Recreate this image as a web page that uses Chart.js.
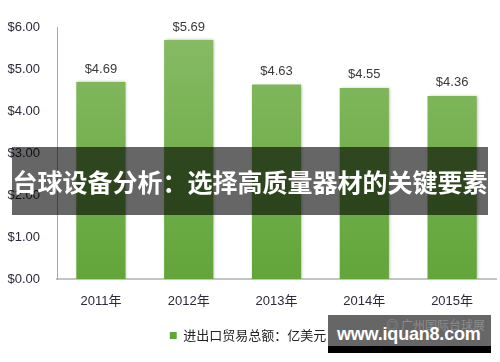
<!DOCTYPE html>
<html>
<head>
<meta charset="utf-8">
<script src="https://cdn.jsdelivr.net/npm/chart.js@4"></script>
<style>
  html, body { margin: 0; padding: 0; background: #fff; }
  #wrap { position: relative; width: 500px; height: 362px; overflow: hidden; }
  #overlay {
    position: absolute; left: 12px; top: 147px; width: 476px; height: 68px;
    background: rgba(0, 0, 0, 0.6); color: #fff;
    font: bold 25px "Noto Sans CJK SC", sans-serif;
    display: flex; align-items: center; justify-content: center; white-space: nowrap;
  }
  #mark {
    position: absolute; left: 328px; top: 315px; width: 163px; height: 31px;
    background: #666; border-bottom: 7px solid #000;
  }
  #mark .cn {
    position: absolute; right: 6px; top: 1px; color: #8c8c8c;
    font: 12px "Noto Sans CJK SC", sans-serif;
  }
  #mark .url {
    position: absolute; left: 9px; top: 9px; color: #fff;
    font: bold 18px "Liberation Sans", sans-serif; letter-spacing: -0.2px;
  }
</style>
</head>
<body>
<div id="wrap">
  <canvas id="chart" width="500" height="362"></canvas>
  <div id="overlay">台球设备分析：选择高质量器材的关键要素</div>
  <div id="mark"><span class="cn">◎ 广州国际台球展</span><span class="url">www.iquan8.com</span></div>
</div>
<script>
const years = ['2011年', '2012年', '2013年', '2014年', '2015年'];
const tradeTotals = [4.69, 5.69, 4.63, 4.55, 4.36];
const seriesName = '进出口贸易总额：亿美元';
const yMax = 6;
const yStep = 1;

// values above the bars
const valueLabels = {
    id: 'valueLabels',
    afterDatasetsDraw(chart) {
        const ctx = chart.ctx;
        const meta = chart.getDatasetMeta(0);
        ctx.save();
        ctx.font = '13px "Liberation Sans", sans-serif';
        ctx.fillStyle = '#3a3a3a';
        ctx.textAlign = 'center';
        ctx.textBaseline = 'middle';
        meta.data.forEach((bar, i) => {
            ctx.fillText('$' + tradeTotals[i].toFixed(2), bar.x, bar.y - 13);
        });
        ctx.restore();
    }
};

// soft shadow round the bars
const barShadow = {
    id: 'barShadow',
    beforeDatasetsDraw(chart) {
        const ctx = chart.ctx;
        ctx.save();
        ctx.shadowColor = 'rgba(0, 0, 0, 0.3)';
        ctx.shadowBlur = 3;
        ctx.shadowOffsetX = 1;
        ctx.shadowOffsetY = 0;
    },
    afterDatasetsDraw(chart) {
        chart.ctx.restore();
    }
};

function barGradient(context) {
    const area = context.chart.chartArea;
    if (!area) return '#6fae48';
    const g = context.chart.ctx.createLinearGradient(0, area.top, 0, area.bottom);
    g.addColorStop(0, '#88bb66');
    g.addColorStop(1, '#62a539');
    return g;
}

const ctx = document.getElementById('chart').getContext('2d');
new Chart(ctx, {
    type: 'bar',
    data: {
        labels: years,
        datasets: [{
            label: seriesName,
            data: tradeTotals,
            backgroundColor: barGradient,
            borderWidth: 0,
            categoryPercentage: 1,
            barPercentage: 0.56
        }]
    },
    options: {
        responsive: false,
        animation: false,
        layout: { padding: { left: 0, right: 4, top: 27, bottom: 10 } },
        plugins: {
            tooltip: { enabled: false },
            legend: {
                position: 'bottom',
                labels: {
                    boxWidth: 7,
                    boxHeight: 7,
                    padding: 10,
                    color: '#222',
                    font: { family: '"Noto Sans CJK SC", sans-serif', size: 13 }
                }
            }
        },
        scales: {
            x: {
                grid: { display: false, drawTicks: false },
                border: { display: true, color: '#c4c4c4', width: 2 },
                ticks: {
                    color: '#2a2a3a',
                    padding: 15,
                    font: { family: '"Liberation Sans", "Noto Sans CJK SC", sans-serif', size: 13 }
                },
                afterFit(scale) { scale.height = 40; }
            },
            y: {
                min: 0,
                max: yMax,
                grid: { display: false, drawTicks: false },
                border: { display: true, color: '#a8a8a8', width: 1 },
                ticks: {
                    stepSize: yStep,
                    color: '#2a2a3a',
                    padding: 17,
                    font: { family: '"Liberation Sans", sans-serif', size: 13 },
                    callback: v => '$' + Number(v).toFixed(2)
                },
                afterFit(scale) { scale.width = 57; }
            }
        }
    },
    plugins: [barShadow, valueLabels]
});
</script>
</body>
</html>
